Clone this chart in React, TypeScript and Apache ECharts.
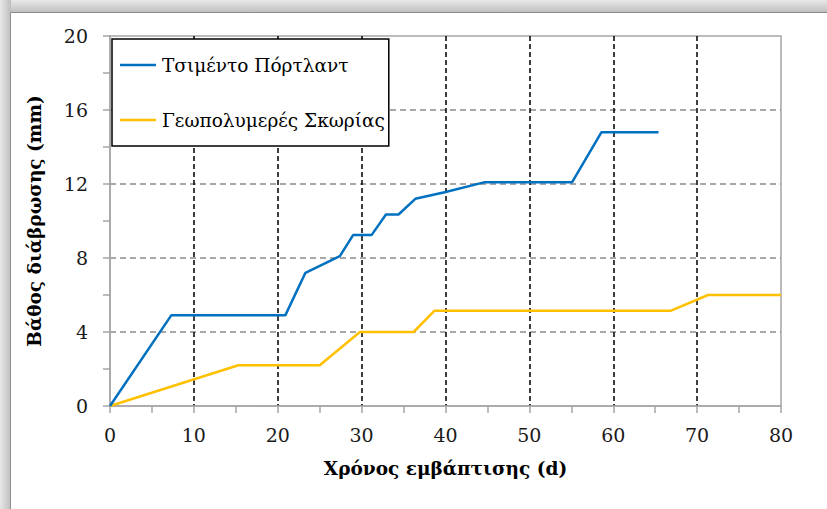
import React, { useEffect, useRef } from "react";
import * as echarts from "echarts";

// Immersion time (d) and corrosion depth (mm) for each mix
const portlandDays = [0, 7.3, 20.9, 23.3, 27.4, 29.0, 31.2, 32.9, 34.4, 36.4, 39.9, 44.7, 55.1, 58.6, 65.4];
const portlandDepth = [0, 4.9, 4.9, 7.2, 8.1, 9.25, 9.25, 10.35, 10.35, 11.2, 11.55, 12.1, 12.1, 14.8, 14.8];

const slagDays = [0, 15.3, 25.0, 29.8, 36.2, 38.7, 66.9, 71.3, 80];
const slagDepth = [0, 2.2, 2.2, 4.0, 4.0, 5.15, 5.15, 6.0, 6.0];

const seriesNames = ["Τσιμέντο Πόρτλαντ", "Γεωπολυμερές Σκωρίας"];
const xAxisTitle = "Χρόνος εμβάπτισης (d)";
const yAxisTitle = "Βάθος διάβρωσης (mm)";

const pairs = (xs: number[], ys: number[]) => xs.map((x, i) => [x, ys[i]]);

const FONT = "DejaVu Serif";

export default function App() {
  const ref = useRef<HTMLDivElement>(null);

  useEffect(() => {
    document.body.style.margin = "0";
    if (!ref.current) return;
    const chart = echarts.init(ref.current, null, { renderer: "svg" });
    chart.setOption({
      animation: false,
      backgroundColor: "#ffffff",
      textStyle: { fontFamily: FONT },
      graphic: [
        {
          type: "rect",
          silent: true,
          z: -10,
          shape: { x: 0, y: 0, width: 827, height: 13 },
          style: {
            fill: new echarts.graphic.LinearGradient(0, 0, 0, 1, [
              { offset: 0, color: "#e8e8e8" },
              { offset: 1, color: "#bdbdbd" },
            ]),
          },
        },
        {
          type: "rect",
          silent: true,
          z: -10,
          shape: { x: 0, y: 0, width: 11, height: 509 },
          style: {
            fill: new echarts.graphic.LinearGradient(0, 0, 1, 0, [
              { offset: 0, color: "#e8e8e8" },
              { offset: 1, color: "#bdbdbd" },
            ]),
          },
        },
        {
          type: "rect",
          silent: true,
          z: -9,
          shape: { x: 10.5, y: 12.5, width: 830, height: 510 },
          style: { fill: "#ffffff", stroke: "#8c8c8c", lineWidth: 1 },
        },
      ],
      grid: {
        left: 110,
        right: 46,
        top: 36,
        bottom: 103,
        show: true,
        borderColor: "#a6a6a6",
        borderWidth: 1.5,
        backgroundColor: "transparent",
      },
      legend: {
        orient: "vertical",
        left: 112,
        top: 39,
        backgroundColor: "#ffffff",
        borderColor: "#000000",
        borderWidth: 1.5,
        padding: [16, 4, 16, 8],
        itemGap: 35,
        itemWidth: 36,
        itemHeight: 14,
        icon: "path://M0,5.75 H36 V8.25 H0 Z",
        textStyle: { fontFamily: FONT, fontSize: 18.5, color: "#000", lineHeight: 20, padding: [0, 0, 0, 1] },
        data: seriesNames,
      },
      xAxis: {
        type: "value",
        min: 0,
        max: 80,
        interval: 10,
        name: xAxisTitle,
        nameLocation: "middle",
        nameGap: 53,
        nameTextStyle: { fontFamily: FONT, fontSize: 18.5, fontWeight: "bold", color: "#000" },
        axisLine: { show: true, lineStyle: { color: "#a6a6a6", width: 1.5 } },
        axisTick: { show: true, inside: false, length: 7, lineStyle: { color: "#a6a6a6", width: 1.5 } },
        minorTick: { show: true, splitNumber: 2, length: 7, lineStyle: { color: "#a6a6a6", width: 1.5 } },
        axisLabel: { fontFamily: FONT, fontSize: 19, color: "#1a1a1a", margin: 19 },
        splitLine: {
          show: true,
          showMinLine: false,
          showMaxLine: false,
          lineStyle: { color: "#000000", width: 1.5, type: [5, 3] },
        },
      },
      yAxis: {
        type: "value",
        min: 0,
        max: 20,
        interval: 4,
        name: yAxisTitle,
        nameLocation: "middle",
        nameGap: 66,
        nameTextStyle: { fontFamily: FONT, fontSize: 18.5, fontWeight: "bold", color: "#000" },
        axisLine: { show: true, lineStyle: { color: "#a6a6a6", width: 1.5 } },
        axisTick: { show: true, inside: false, length: 7, lineStyle: { color: "#a6a6a6", width: 1.5 } },
        minorTick: { show: true, splitNumber: 2, length: 7, lineStyle: { color: "#a6a6a6", width: 1.5 } },
        axisLabel: { fontFamily: FONT, fontSize: 19, color: "#1a1a1a", margin: 22 },
        splitLine: {
          show: true,
          showMinLine: false,
          showMaxLine: false,
          lineStyle: { color: "#8c8c8c", width: 1.5, type: [6, 4] },
        },
      },
      series: [
        {
          name: seriesNames[0],
          type: "line",
          symbol: "none",
          color: "#0070C0",
          lineStyle: { width: 2.5, color: "#0070C0" },
          data: pairs(portlandDays, portlandDepth),
          z: 3,
        },
        {
          name: seriesNames[1],
          type: "line",
          symbol: "none",
          color: "#FFC000",
          lineStyle: { width: 2.5, color: "#FFC000" },
          data: pairs(slagDays, slagDepth),
          z: 2,
        },
      ],
    });
    return () => chart.dispose();
  }, []);

  return <div ref={ref} style={{ width: 827, height: 509 }} />;
}
